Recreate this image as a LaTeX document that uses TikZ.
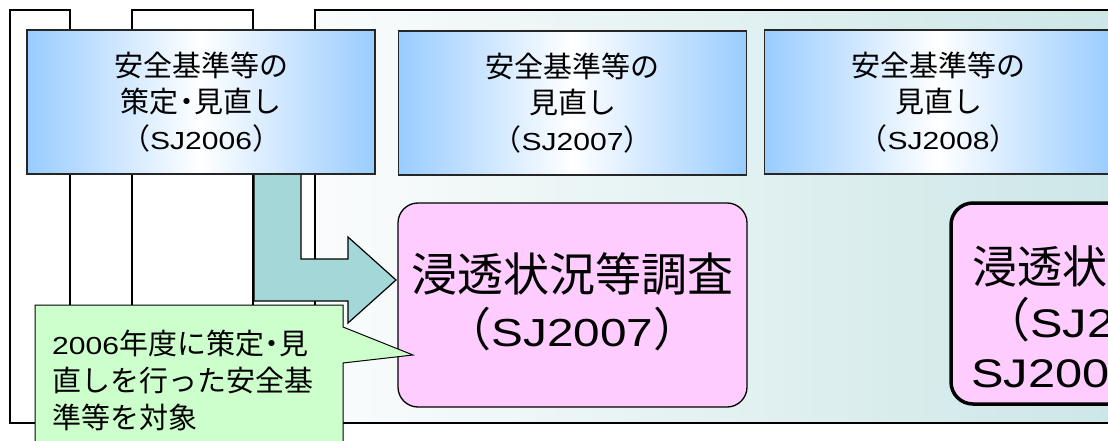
\documentclass[tikz,border=0pt]{standalone}
\usepackage{fontspec}
\setmainfont{Liberation Sans}[FakeStretch=1.22,Scale=0.85]
\newfontfamily\jp{Noto Sans CJK JP}
\newcommand\hdot{{\jp\kern-0.24em・\kern-0.24em}}
\definecolor{skyb}{RGB}{153,204,255}
\definecolor{pinkf}{RGB}{255,204,255}
\definecolor{greenf}{RGB}{204,255,204}
\definecolor{tealf}{RGB}{164,216,216}
\definecolor{fcl}{RGB}{250,252,252}
\definecolor{fcr}{RGB}{204,230,230}
\begin{document}
\begin{tikzpicture}[x=1pt,y=-1pt,
  frame/.style={draw=black,line width=1.2pt,fill=white},
  bluebox/.style={draw=black!85,line width=1.3pt,left color=skyb,right color=skyb,middle color=white,
    minimum width=348pt,minimum height=144pt,inner sep=0pt,align=center,
    font=\fontsize{29}{36.5}\selectfont},
  pinkbox/.style={draw=black,line width=1.3pt,fill=pinkf,rounded corners=20pt,inner sep=0pt,align=center},
  bigtext/.style={inner sep=0pt,anchor=base west,font=\fontsize{47}{50}\selectfont},
  tarrow/.style={draw=black,line width=1.2pt,fill=tealf,line join=miter},
  callout/.style={draw=black,line width=1pt,fill=greenf}
]
\useasboundingbox (0,0) rectangle (1108,441);
\clip (0,0) rectangle (1108,441);
% background frames
\path[frame] (10,10) rectangle (70,423);
\path[frame] (132,10) rectangle (253,423);
\path[draw=black,line width=1.2pt,left color=fcl,right color=fcr] (315,10) rectangle (1125,423);
% bent arrow
\draw[tarrow] (254,150) -- (254,301) -- (348,301) -- (348,323) -- (396,280) -- (348,237) -- (348,259) -- (301,259) -- (301,150) -- cycle;
% blue boxes
\node[bluebox] (b1) at (201,102) {{\jp 安全基準等の}\\{\jp 策定}\hdot{\jp 見直し}\\{\jp （}SJ2006{\jp ）}};
\node[bluebox] (b2) at (572.5,103) {{\jp 安全基準等の}\\{\jp 見直し}\\{\jp （}SJ2007{\jp ）}};
\node[bluebox] (b3) at (938.5,102) {{\jp 安全基準等の}\\{\jp 見直し}\\{\jp （}SJ2008{\jp ）}};
% pink boxes
\node[pinkbox,minimum width=349pt,minimum height=204pt] (p1) at (572.5,305) {};
\node[inner sep=0pt,align=center,font=\fontsize{46}{55}\selectfont] (p1t) at (572.5,302)
  {{\jp 浸透状況等調査}\\{\jp （}SJ2007{\jp ）}};
\node[pinkbox,line width=3.5pt,rounded corners=22pt,minimum width=200pt,minimum height=201pt] (p2) at (1051,303.5) {};
\node[bigtext,font=\fontsize{45}{50}\selectfont] (t1) at (972,283) {\jp 浸透状};
\node[bigtext] (t2) at (983,337) {{\jp （}SJ2};
\node[bigtext] (t3) at (971,387) {SJ200};
% callout
\path[callout] (35,305) -- (343,305) -- (343,327) -- (413,355) -- (343,363) -- (343,460) -- (35,460) -- cycle;
\node[inner sep=0pt,anchor=north west,align=left,font=\fontsize{29}{37}\selectfont] (c) at (52,330)
  {2006{\jp 年度に策定}\hdot{\jp 見}\\{\jp 直しを行った安全基}\\{\jp 準等を対象}};
\end{tikzpicture}
\end{document}
